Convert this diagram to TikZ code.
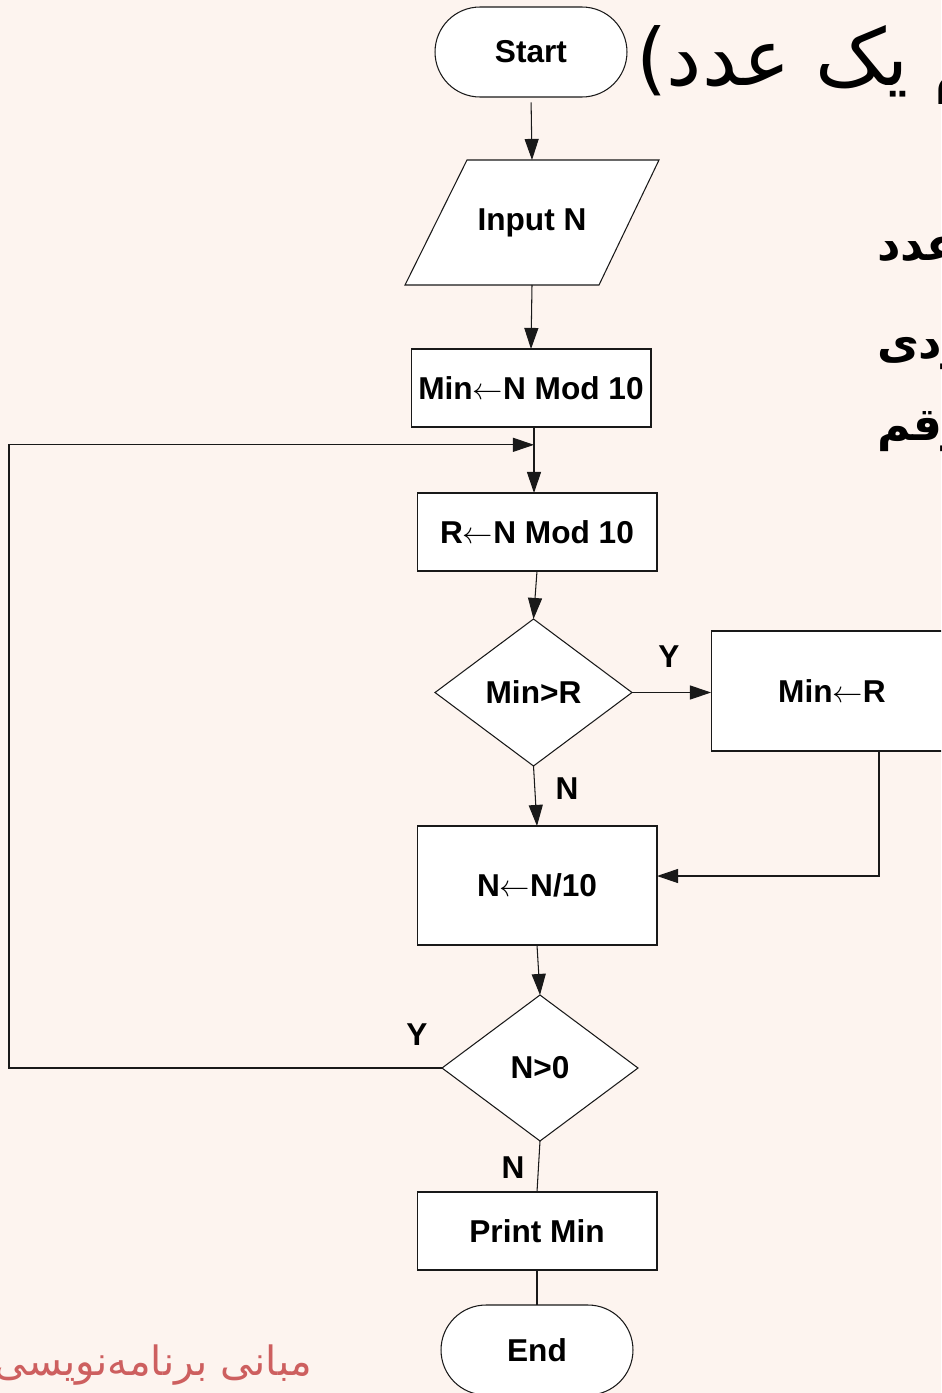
\documentclass[tikz,border=0pt]{standalone}
\usepackage{fontspec}
\setmainfont{Liberation Sans}
\newfontfamily\arabicfont[Script=Arabic]{DejaVu Sans}
\newfontfamily\plainsans{DejaVu Sans}
\TeXXeTstate=1
\usetikzlibrary{shapes.geometric,shapes.misc,arrows.meta,calc}
\definecolor{slidebg}{RGB}{253,244,239}
\definecolor{linegray}{RGB}{25,25,25}
\definecolor{footred}{RGB}{205,95,95}

\begin{document}
\begin{tikzpicture}[x=0.02cm,y=-0.02cm,
  every node/.style={font=\fontsize{18}{20}\selectfont\bfseries, inner sep=0pt, outer sep=0pt},
  shapeline/.style={draw=linegray, fill=white, line width=0.6pt},
  box/.style={shapeline, minimum width=4.8cm, minimum height=1.56cm},
  term/.style={shapeline, rounded rectangle, minimum width=3.84cm, minimum height=1.8cm},
  decide/.style={shapeline, diamond, minimum width=3.94cm, minimum height=2.94cm},
  flow/.style={draw=linegray, line width=0.6pt, -{Triangle[length=12pt,width=8pt]}},
  link/.style={draw=linegray, line width=0.6pt},
  tag/.style={font=\fontsize{18}{20}\selectfont\bfseries},
  persian/.style={font=\arabicfont\fontsize{45}{50}\selectfont},
  persianbold/.style={font=\arabicfont\bfseries\fontsize{26}{30}\selectfont},
  footer/.style={text=footred, font=\arabicfont\fontsize{23}{28}\selectfont}
]
\useasboundingbox (0,0) rectangle (941,1393);
\clip (0,0) rectangle (941,1393);
\fill[slidebg] (0,0) rectangle (941,1393);

% slide text behind the chart
\node[persian, anchor=base west] (title) at (636,85) {{\plainsans (}\beginR رقم یک عدد\endR};
\node[persianbold, anchor=base west] (q1) at (877,260) {\beginR یک عدد\endR};
\node[persianbold, anchor=base west] (q2) at (877,358) {\beginR از ورودی\endR};
\node[persianbold, anchor=base west] (q3) at (877,440) {\beginR کوچکترین رقم\endR};
\node[footer, anchor=base east] (foot) at (312,1375) {\beginR مبانی برنامه‌نویسی\endR};

% flowchart nodes
\node[term] (start) at (531,52) {Start};
\path[shapeline] (467,160) -- (659,160) -- (599,285) -- (405,285) -- cycle;
\node[minimum width=5.08cm, minimum height=2.5cm] (input) at (532,222.5) {Input N};
\node[box] (m1) at (531,388) {Min$\leftarrow$N Mod 10};
\node[box] (r) at (537,532) {R$\leftarrow$N Mod 10};
\node[decide] (d1) at (533.5,692.5) {Min>R};
\node[box, minimum width=4.84cm, minimum height=2.4cm] (mr) at (832,691) {Min$\leftarrow$R};
\node[box, minimum height=2.38cm] (n10) at (537,885.5) {N$\leftarrow$N/10};
\node[decide, minimum width=3.92cm, minimum height=2.92cm] (d2) at (540,1068) {N>0};
\node[box] (pm) at (537,1231) {Print Min};
\node[term, minimum width=3.84cm] (end) at (537,1350) {End};

% branch labels
\node[tag] (ylab1) at (669,657) {Y};
\node[tag] (nlab1) at (567,789) {N};
\node[tag] (ylab2) at (417,1035) {Y};
\node[tag] (nlab2) at (513,1168) {N};

% connectors
\coordinate (mid) at ($(m1.south)!0.5!(r.north)$);
\coordinate (join) at ($(m1.south -| mid)!0.27!(r.north -| mid)$);
\draw[flow, shorten <=3pt] (start.south) -- (input.north);
\draw[flow] (input.south) -- (m1.north);
\draw[flow] (m1.south -| mid) -- (r.north -| mid);
\draw[flow] (r.south) -- (d1.north);
\draw[flow] (d1.east) -- (d1.east -| mr.west);
\draw[flow] (d1.south) -- (n10.north);
\draw[flow] ([xshift=0.94cm]mr.south) |- ([yshift=0.19cm]n10.east);
\draw[flow] (n10.south) -- (d2.north);
\draw[flow] (d2.west) -- ++(-433,0) |- (join);
\draw[link] (d2.south) -- (pm.north);
\draw[link] (pm.south) -- (end.north);
\end{tikzpicture}
\end{document}
